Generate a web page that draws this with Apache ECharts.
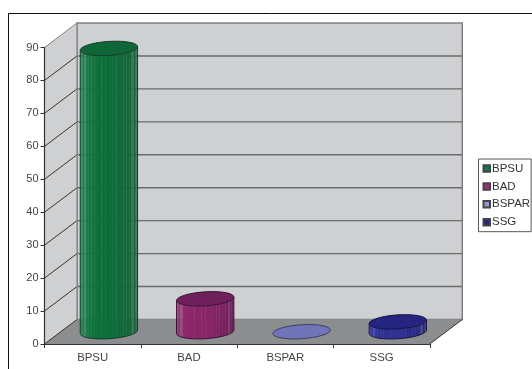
<!DOCTYPE html>
<html>
<head>
<meta charset="utf-8">
<style>html,body{margin:0;padding:0;background:#fff}#chart{width:532px;height:369px}</style>
<script src="https://cdn.jsdelivr.net/npm/echarts@6/dist/echarts.min.js"></script>
</head>
<body>
<div id="chart"></div>
<script>
// Share of each group, drawn as cylinders standing in an oblique 3D box.
const categories = ['BPSU', 'BAD', 'BSPAR', 'SSG'];
const values = [86, 10, 0, 3];
const yTicks = [0, 10, 20, 30, 40, 50, 60, 70, 80, 90];

// Legend colour, lid colour, then body shades from left to middle to right.
const legendColors = ['#0f7a45', '#9e2a7a', '#9497cc', '#23237e'];
const lidColors = ['#0f6637', '#6e1f5c', '#7074b8', '#25247f'];
const bodyLeft = ['#1c8a52', '#9a2f78', '#8488c8', '#34379f'];
const bodyMid = ['#0e6e3a', '#8a2568', '#7074b8', '#2e3193'];
const bodyRight = ['#1c5a38', '#5c1c4e', '#4e5290', '#232570'];
const outlineColors = ['#17392a', '#351430', '#3a3c60', '#14143f'];

// Oblique projection of the box depth, and the cylinder's ground-plane radii.
const DX = 32.5, DY = -24.5;
const RX = 27.8, RDX = 7, RDY = -7.2;

const hex = c => [1, 3, 5].map(i => parseInt(c.substr(i, 2), 16));
function mix(a, b, k) {
  const A = hex(a), B = hex(b);
  return '#' + A.map((v, i) => Math.round(v + (B[i] - v) * k).toString(16).padStart(2, '0')).join('');
}
function rimPoint(cx, cy, t) {
  return [cx + RX * Math.cos(t) + RDX * Math.sin(t), cy + RDY * Math.sin(t)];
}
function rimPath(cx, cy, from, to, n) {
  const pts = [];
  for (let i = 0; i <= n; i++) pts.push(rimPoint(cx, cy, from + (to - from) * i / n));
  return pts;
}

// Back wall, side wall, floor and their gridlines.
function renderBox(params, api) {
  const g = params.coordSys;
  const left = g.x, right = g.x + g.width, bottom = g.y + g.height, top = g.y;
  const kids = [
    { type: 'polygon', shape: { points: [[left + DX, top + DY], [right + DX, top + DY], [right + DX, bottom + DY], [left + DX, bottom + DY]] },
      style: { fill: '#cfd0d2', stroke: '#808082', lineWidth: 1.5 } },
    { type: 'polygon', shape: { points: [[left, top], [left + DX, top + DY], [left + DX, bottom + DY], [left, bottom]] },
      style: { fill: '#cfd0d2', stroke: null } },
    { type: 'polygon', shape: { points: [[left, bottom], [right, bottom], [right + DX, bottom + DY], [left + DX, bottom + DY]] },
      style: { fill: '#8c8d8f', stroke: null } }
  ];
  yTicks.forEach(v => {
    const y = api.coord([0, v])[1];
    if (v > 0 && v < 90) {
      kids.push({ type: 'line', shape: { x1: left + DX, y1: y + DY, x2: right + DX, y2: y + DY }, style: { stroke: '#6a6b6d', lineWidth: 1.4 } });
    }
    const isTop = v === 90;
    kids.push({ type: 'line', shape: { x1: left, y1: y, x2: left + DX, y2: y + DY },
      style: { stroke: isTop ? '#808082' : '#333333', lineWidth: 1 } });
  });
  kids.push({ type: 'line', shape: { x1: left + DX, y1: top + DY, x2: left + DX, y2: bottom + DY }, style: { stroke: '#808082', lineWidth: 1.2 } });
  kids.push({ type: 'line', shape: { x1: right, y1: bottom, x2: right + DX, y2: bottom + DY }, style: { stroke: '#333333', lineWidth: 1 } });
  return { type: 'group', children: kids };
}

// One cylinder: shaded vertical facets, then the outline, then the lid.
function renderCylinder(idx) {
  return function (params, api) {
    const slot = api.value(0);
    const topP = api.coord([slot, api.value(1)]);
    const baseP = api.coord([slot, 0]);
    const cx = topP[0] + DX / 2, cyTop = topP[1] + DY / 2, cyBase = baseP[1] + DY / 2;
    const h = cyBase - cyTop;
    const kids = [];
    // Silhouette tangents of the sheared ellipse.
    const tTan = Math.atan2(RDX, RX);
    const tStart = Math.PI + tTan, tEnd = 2 * Math.PI + tTan;
    if (h > 0.5) {
      const n = 24;
      for (let i = 0; i < n; i++) {
        const a = tStart + (tEnd - tStart) * i / n;
        const b = tStart + (tEnd - tStart) * (i + 1) / n + 0.01;
        const u = i / (n - 1);
        let fill = u < 0.5 ? mix(bodyLeft[idx], bodyMid[idx], Math.min(1, u * 2.6))
                           : mix(bodyMid[idx], bodyRight[idx], Math.max(0, (u - 0.55) * 2.2));
        // Narrow lighter ribs near both edges.
        if ((u < 0.3 || u > 0.7) && i % 3 === 1) fill = mix(fill, '#ffffff', 0.14);
        const pa = rimPoint(cx, cyTop, a), pb = rimPoint(cx, cyTop, b);
        kids.push({ type: 'polygon', shape: { points: [pa, pb, [pb[0], pb[1] + h], [pa[0], pa[1] + h]] },
          style: { fill: fill, stroke: null } });
      }
      const lower = rimPath(cx, cyBase, tStart, tEnd, 40);
      const first = rimPoint(cx, cyTop, tStart), last = rimPoint(cx, cyTop, tEnd);
      kids.push({ type: 'polyline', shape: { points: [first].concat(lower, [last]) },
        style: { fill: null, stroke: outlineColors[idx], lineWidth: 1 } });
    }
    kids.push({ type: 'polygon', shape: { points: rimPath(cx, cyTop, 0, 2 * Math.PI, 60) },
      style: { fill: lidColors[idx], stroke: outlineColors[idx], lineWidth: 1 } });
    return { type: 'group', children: kids };
  };
}

const series = [{
  type: 'custom', name: 'box', data: [[0, 0]], z: 1, silent: true,
  renderItem: renderBox
}].concat(categories.map((name, i) => ({
  type: 'custom',
  name: name,
  data: [[i, values[i]]],
  z: 3,
  itemStyle: { color: legendColors[i], borderColor: '#444', borderWidth: 0.6 },
  renderItem: renderCylinder(i)
})));

const chart = echarts.init(document.getElementById('chart'), null, { renderer: 'canvas' });
chart.setOption({
  animation: false,
  backgroundColor: '#ffffff',
  textStyle: { fontFamily: 'Liberation Sans' },
  grid: { left: 44.5, right: 102.25, top: 47.5, bottom: 25, containLabel: false },
  xAxis: {
    type: 'category', data: categories, z: 4,
    axisLine: { lineStyle: { color: '#333333', width: 1.2 } },
    axisTick: { show: true, length: 4, alignWithLabel: false, lineStyle: { color: '#333333' } },
    axisLabel: { color: '#444444', fontSize: 11.4, margin: 8.5 },
    splitLine: { show: false }
  },
  yAxis: {
    type: 'value', min: 0, max: 90, interval: 10, z: 4,
    axisLine: { show: true, lineStyle: { color: '#333333', width: 1.2 } },
    axisTick: { show: true, length: 4, lineStyle: { color: '#333333' } },
    axisLabel: { color: '#444444', fontSize: 11, margin: 6 },
    splitLine: { show: false }
  },
  legend: {
    data: categories,
    orient: 'vertical',
    left: 478.5, top: 159,
    padding: [3.5, 1, 3.5, 4],
    itemWidth: 6.5, itemHeight: 6.5, itemGap: 5.9,
    icon: 'rect',
    borderColor: '#555555', borderWidth: 1,
    selectedMode: false,
    textStyle: { color: '#333333', fontSize: 11.5, padding: [0, 0, 0, -3], fontFamily: 'Liberation Sans' }
  },
  graphic: [
    { type: 'line', shape: { x1: 8.5, y1: 13.5, x2: 532, y2: 13.5 }, style: { stroke: '#111111', lineWidth: 1 } },
    { type: 'line', shape: { x1: 8.5, y1: 13.5, x2: 8.5, y2: 369 }, style: { stroke: '#111111', lineWidth: 1 } }
  ],
  series: series
});
</script>
</body>
</html>
